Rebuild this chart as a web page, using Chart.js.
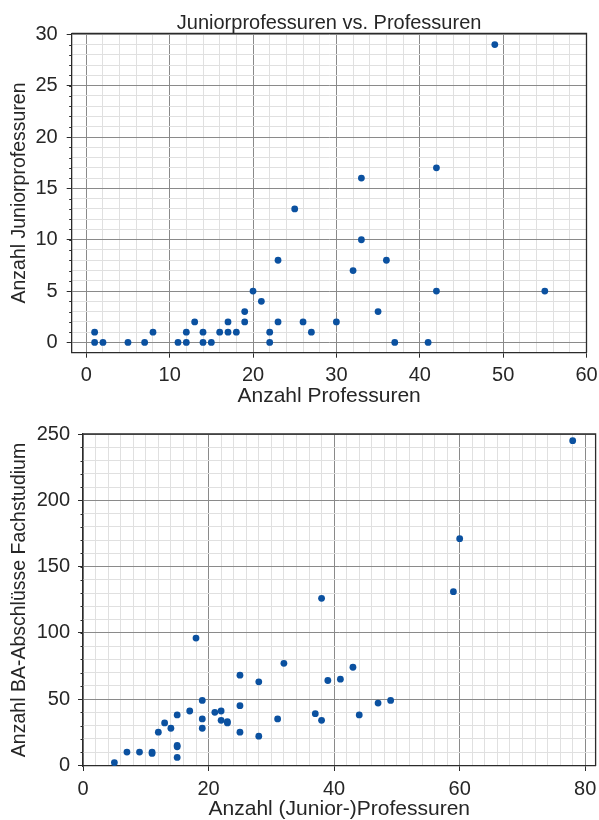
<!DOCTYPE html>
<html>
<head>
<meta charset="utf-8">
<script src="https://cdn.jsdelivr.net/npm/chart.js@4"></script>
<style>
  html, body { margin: 0; padding: 0; background: #fff; }
  body { width: 599px; height: 820px; position: relative; overflow: hidden; }
  canvas { position: absolute; left: 0; }
</style>
</head>
<body>
<canvas id="c1" width="599" height="420" style="top:0"></canvas>
<canvas id="c2" width="599" height="424" style="top:400px"></canvas>
<script>
// ---- Data: top chart (Professuren vs. Juniorprofessuren)
const profX = [1,1,2,5,7,8,11,12,12,13,14,14,15,16,17,17,18,19,19,20,21,22,22,23,23,25,26,27,30,32,33,33,35,36,37,41,42,42,49,55];
const juniorY = [1,0,0,0,0,1,0,0,1,2,1,0,0,1,2,1,1,2,3,5,4,1,0,2,8,13,2,1,2,7,16,10,3,8,0,0,17,5,29,5];

// ---- Data: bottom chart ((Junior-)Professuren vs. BA-Abschlüsse)
const allProfX = [5,7,9,11,11,12,13,14,15,15,15,15,17,18,19,19,19,21,22,22,23,23,25,25,25,28,28,31,32,37,38,38,39,41,43,44,47,49,59,60,78];
const baY = [2,10,10,10,9,25,32,28,38,15,14,6,41,96,49,35,28,40,41,34,33,32,68,45,25,63,22,35,77,39,126,34,64,65,74,38,47,49,131,171,245];

// ---- Tick definitions
const top_xTicks = [0,10,20,30,40,50,60];
const top_yTicks = [0,5,10,15,20,25,30];
const bot_xTicks = [0,20,40,60,80];
const bot_yTicks = [0,50,100,150,200,250];

const chartTitle = 'Juniorprofessuren vs. Professuren';

const FONT = "'Liberation Sans', Arial, sans-serif";
const TXT = '#262626';
const DOT = '#0b51a0';
const MAJOR = '#8a8a8a';
const MINOR = '#e0e0e0';
const SPINE = '#2b2b2b';

function range(a, b, s) { const r = []; for (let v = a; v <= b + 1e-9; v += s) r.push(Math.round(v * 1000) / 1000); return r; }

// top/right frame + small minor ticks on y axis + optional title
function framePlugin(title) {
  return {
    id: 'frame',
    afterDatasetsDraw(chart) {
      const a = chart.chartArea, ctx = chart.ctx;
      ctx.save();
      ctx.strokeStyle = SPINE;
      ctx.lineWidth = 1.3;
      ctx.beginPath();
      ctx.moveTo(a.left, a.top); ctx.lineTo(a.right, a.top); ctx.lineTo(a.right, a.bottom);
      ctx.stroke();
      // minor tick marks on y axis
      const ys = chart.scales.y;
      ctx.lineWidth = 1;
      ctx.beginPath();
      ys.ticks.forEach(t => {
        const py = Math.round(ys.getPixelForValue(t.value)) + 0.5;
        ctx.moveTo(a.left - 2.5, py); ctx.lineTo(a.left, py);
      });
      ctx.stroke();
      if (title) {
        ctx.fillStyle = TXT;
        ctx.font = "20px " + FONT;
        ctx.textAlign = 'center';
        ctx.textBaseline = 'alphabetic';
        ctx.fillText(title, (a.left + a.right) / 2, 28.5);
      }
      ctx.restore();
    }
  };
}

function makeScale(opts) {
  const majors = opts.majors;
  const isMajor = v => majors.some(m => Math.abs(m - v) < 1e-6);
  return {
    type: 'linear',
    position: opts.position,
    min: opts.min, max: opts.max,
    afterBuildTicks(scale) { scale.ticks = range(opts.from, opts.to, opts.minor).map(v => ({ value: v })); },
    afterFit(scale) {
      if (opts.position === 'left') { scale.width = opts.size; scale.paddingTop = 0; scale.paddingBottom = 0; }
      else { scale.height = opts.size; scale.paddingLeft = 0; scale.paddingRight = 0; }
    },
    grid: {
      color: c => (c.tick && isMajor(c.tick.value)) ? MAJOR : MINOR,
      lineWidth: 1,
      tickColor: c => (c.tick && isMajor(c.tick.value)) ? SPINE : 'rgba(0,0,0,0)',
      tickLength: 5,
      drawTicks: true
    },
    border: { display: true, color: SPINE, width: 1.3 },
    ticks: {
      autoSkip: false, maxRotation: 0, minRotation: 0,
      padding: opts.tickPad,
      color: TXT,
      font: { family: FONT, size: 20 },
      callback: v => isMajor(v) ? String(v) : ''
    },
    title: {
      display: true, text: opts.title, color: TXT,
      font: { family: FONT, size: opts.titleSize },
      padding: opts.titlePad
    }
  };
}

function pts(xs, ys) { return xs.map((x, i) => ({ x: x, y: ys[i] })); }

const dsStyle = { backgroundColor: DOT, borderWidth: 0, pointRadius: 3.4, pointHoverRadius: 3.4, showLine: false };

new Chart(document.getElementById('c1'), {
  type: 'scatter',
  data: { datasets: [Object.assign({ data: pts(profX, juniorY) }, dsStyle)] },
  options: {
    responsive: false, animation: false, devicePixelRatio: 1,
    layout: { padding: { left: 0, right: 12.5, top: 33.3, bottom: 0 } },
    plugins: { legend: { display: false }, tooltip: { enabled: false }, title: { display: false } },
    scales: {
      x: makeScale({ position: 'bottom', min: -1.75, max: 60, from: 0, to: 60, minor: 2, majors: top_xTicks,
                     size: 67.3, tickPad: 6, title: 'Anzahl Professuren', titleSize: 21, titlePad: { top: 0, bottom: 11.5 } }),
      y: makeScale({ position: 'left', min: -1, max: 30.1, from: 0, to: 30, minor: 1, majors: top_yTicks,
                     size: 71.7, tickPad: 9, title: 'Anzahl Juniorprofessuren', titleSize: 19.5, titlePad: { top: 8, bottom: 0 } })
    }
  },
  plugins: [framePlugin(chartTitle)]
});

new Chart(document.getElementById('c2'), {
  type: 'scatter',
  data: { datasets: [Object.assign({ data: pts(allProfX, baY) }, dsStyle)] },
  options: {
    responsive: false, animation: false, devicePixelRatio: 1,
    layout: { padding: { left: 0, right: 2.3, top: 34, bottom: 0 } },
    plugins: { legend: { display: false }, tooltip: { enabled: false }, title: { display: false } },
    scales: {
      x: makeScale({ position: 'bottom', min: 0, max: 81.65, from: 0, to: 80, minor: 2, majors: bot_xTicks,
                     size: 58, tickPad: 6, title: 'Anzahl (Junior-)Professuren', titleSize: 21, titlePad: { top: 0, bottom: 2 } }),
      y: makeScale({ position: 'left', min: -0.5, max: 250, from: 0, to: 250, minor: 10, majors: bot_yTicks,
                     size: 83, tickPad: 8, title: 'Anzahl BA-Abschlüsse Fachstudium', titleSize: 19.5, titlePad: { top: 8, bottom: 0 } })
    }
  },
  plugins: [framePlugin(null)]
});
</script>
</body>
</html>
